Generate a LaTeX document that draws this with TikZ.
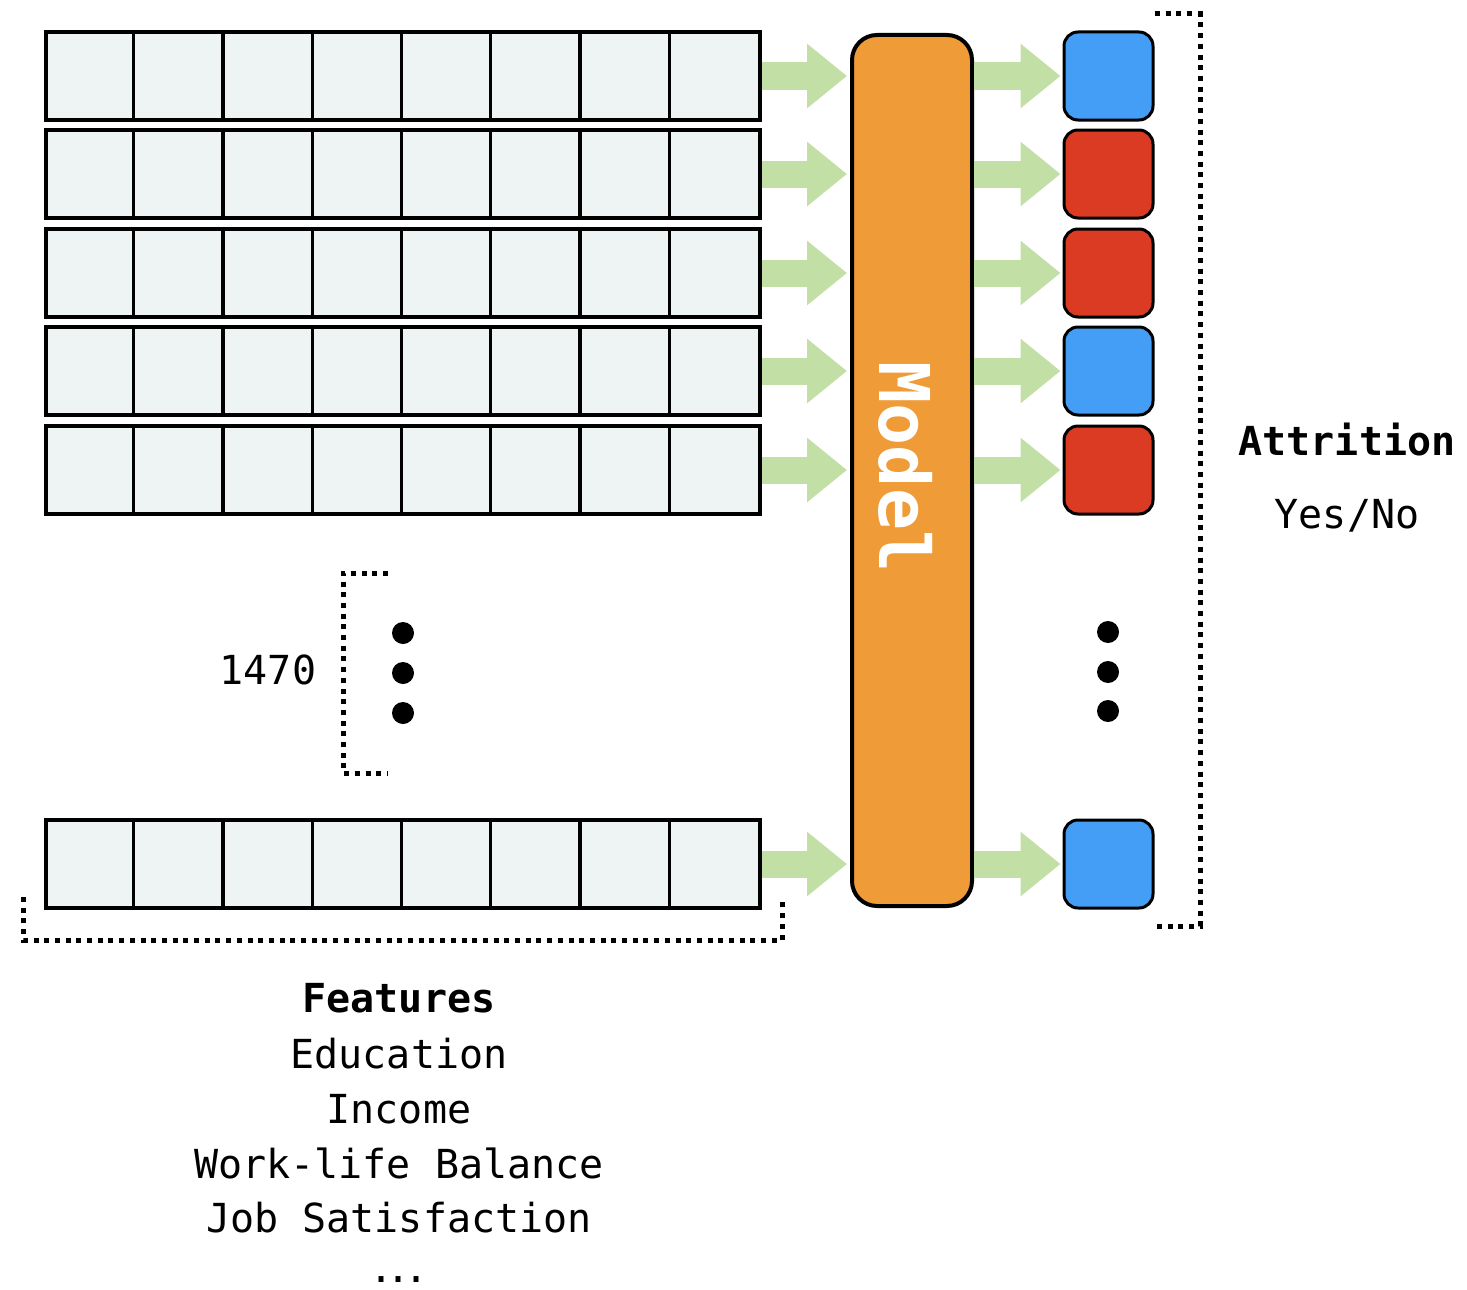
\documentclass[tikz,border=0pt]{standalone}
\usepackage{fontspec}
\setmonofont{DejaVu Sans Mono}
\usetikzlibrary{arrows.meta,calc}
\definecolor{cellfill}{HTML}{EEF4F3}
\definecolor{arrowgreen}{HTML}{C2DFA6}
\definecolor{modelorange}{HTML}{EF9B37}
\definecolor{outblue}{HTML}{459EF5}
\definecolor{outred}{HTML}{DB3B23}
\begin{document}
\begin{tikzpicture}[x=1pt,y=-1pt,
  rowbox/.style={draw, line width=3.2pt, fill=cellfill, minimum width=714pt, minimum height=88pt, inner sep=0pt},
  modelbox/.style={draw, line width=4pt, fill=modelorange, rounded corners=25pt, minimum width=120pt, minimum height=871pt, inner sep=0pt},
  outbox/.style={draw, line width=3pt, rounded corners=14pt, minimum width=89pt, minimum height=88pt, inner sep=0pt},
  garrow/.style={draw=arrowgreen, line width=27pt, -{Triangle[length=40pt,width=62pt,fill=arrowgreen]}},
  dotbr/.style={line width=5pt, dash pattern=on 5pt off 5.7pt},
  txt/.style={font=\fontsize{40}{48}\selectfont\ttfamily, inner sep=0pt, anchor=base},
  btxt/.style={font=\fontsize{40}{48}\selectfont\ttfamily\bfseries, inner sep=0pt, anchor=base},
  bigdot/.style={fill=black}
]
\useasboundingbox (0,0) rectangle (1467,1290);

% input rows
\foreach \i/\yc in {1/76, 2/174, 3/273, 4/371, 5/470, 6/864} {
  \node[rowbox] (r\i) at (403,\yc) {};
  \foreach \k in {1,...,7} {
    \draw[line width=3.2pt] ($(r\i.north west)+(\k*89.25,0)$) -- ($(r\i.south west)+(\k*89.25,0)$);
  }
}

% model
\node[modelbox] (m) at (912,470.5) {};
\node[rotate=-90, text=white, font=\fontsize{70}{80}\selectfont\ttfamily\bfseries, inner sep=0pt] (mlabel) at (906,467) {Model};

% outputs
\node[outbox, fill=outblue] (o1) at (1108.5,76) {};
\node[outbox, fill=outred]  (o2) at (1108.5,174) {};
\node[outbox, fill=outred]  (o3) at (1108.5,273) {};
\node[outbox, fill=outblue] (o4) at (1108.5,371) {};
\node[outbox, fill=outred]  (o5) at (1108.5,470) {};
\node[outbox, fill=outblue] (o6) at (1108.5,864) {};

% arrows
\foreach \i in {1,...,6} {
  \draw[garrow] (r\i.east) -- ([xshift=-3pt]r\i.east -| m.west);
  \draw[garrow] (m.east |- o\i.west) -- ([xshift=-2pt]o\i.west);
}

% dots
\fill[bigdot] (403,633) circle[radius=11pt];
\fill[bigdot] (403,673) circle[radius=11pt];
\fill[bigdot] (403,713) circle[radius=11pt];
\fill[bigdot] (1108,632) circle[radius=11pt];
\fill[bigdot] (1108,672) circle[radius=11pt];
\fill[bigdot] (1108,711) circle[radius=11pt];

% brackets
\draw[dotbr] (388,573) -- (343,573) -- (343,773) -- (388,773);
\draw[dotbr] (1155,14) -- (1200,14) -- (1200,926) -- (1155,926);
\draw[dotbr] (23,897) -- (23,940) -- (782,940) -- (782,897);

% texts
\node[txt] (n1470) at (268,684) {1470};
\node[btxt] (feat) at (399,1012) {Features};
\node[txt] (edu) at (399,1068) {Education};
\node[txt] (inc) at (399,1123) {Income};
\node[txt] (wlb) at (399,1178) {Work-life Balance};
\node[txt] (job) at (399,1232) {Job Satisfaction};
\node[txt] (more) at (399,1282) {.\kern-7pt.\kern-7pt.};
\node[btxt] (attr) at (1347,455) {Attrition};
\node[txt] (yn) at (1347,528) {Yes/No};
\end{tikzpicture}
\end{document}
